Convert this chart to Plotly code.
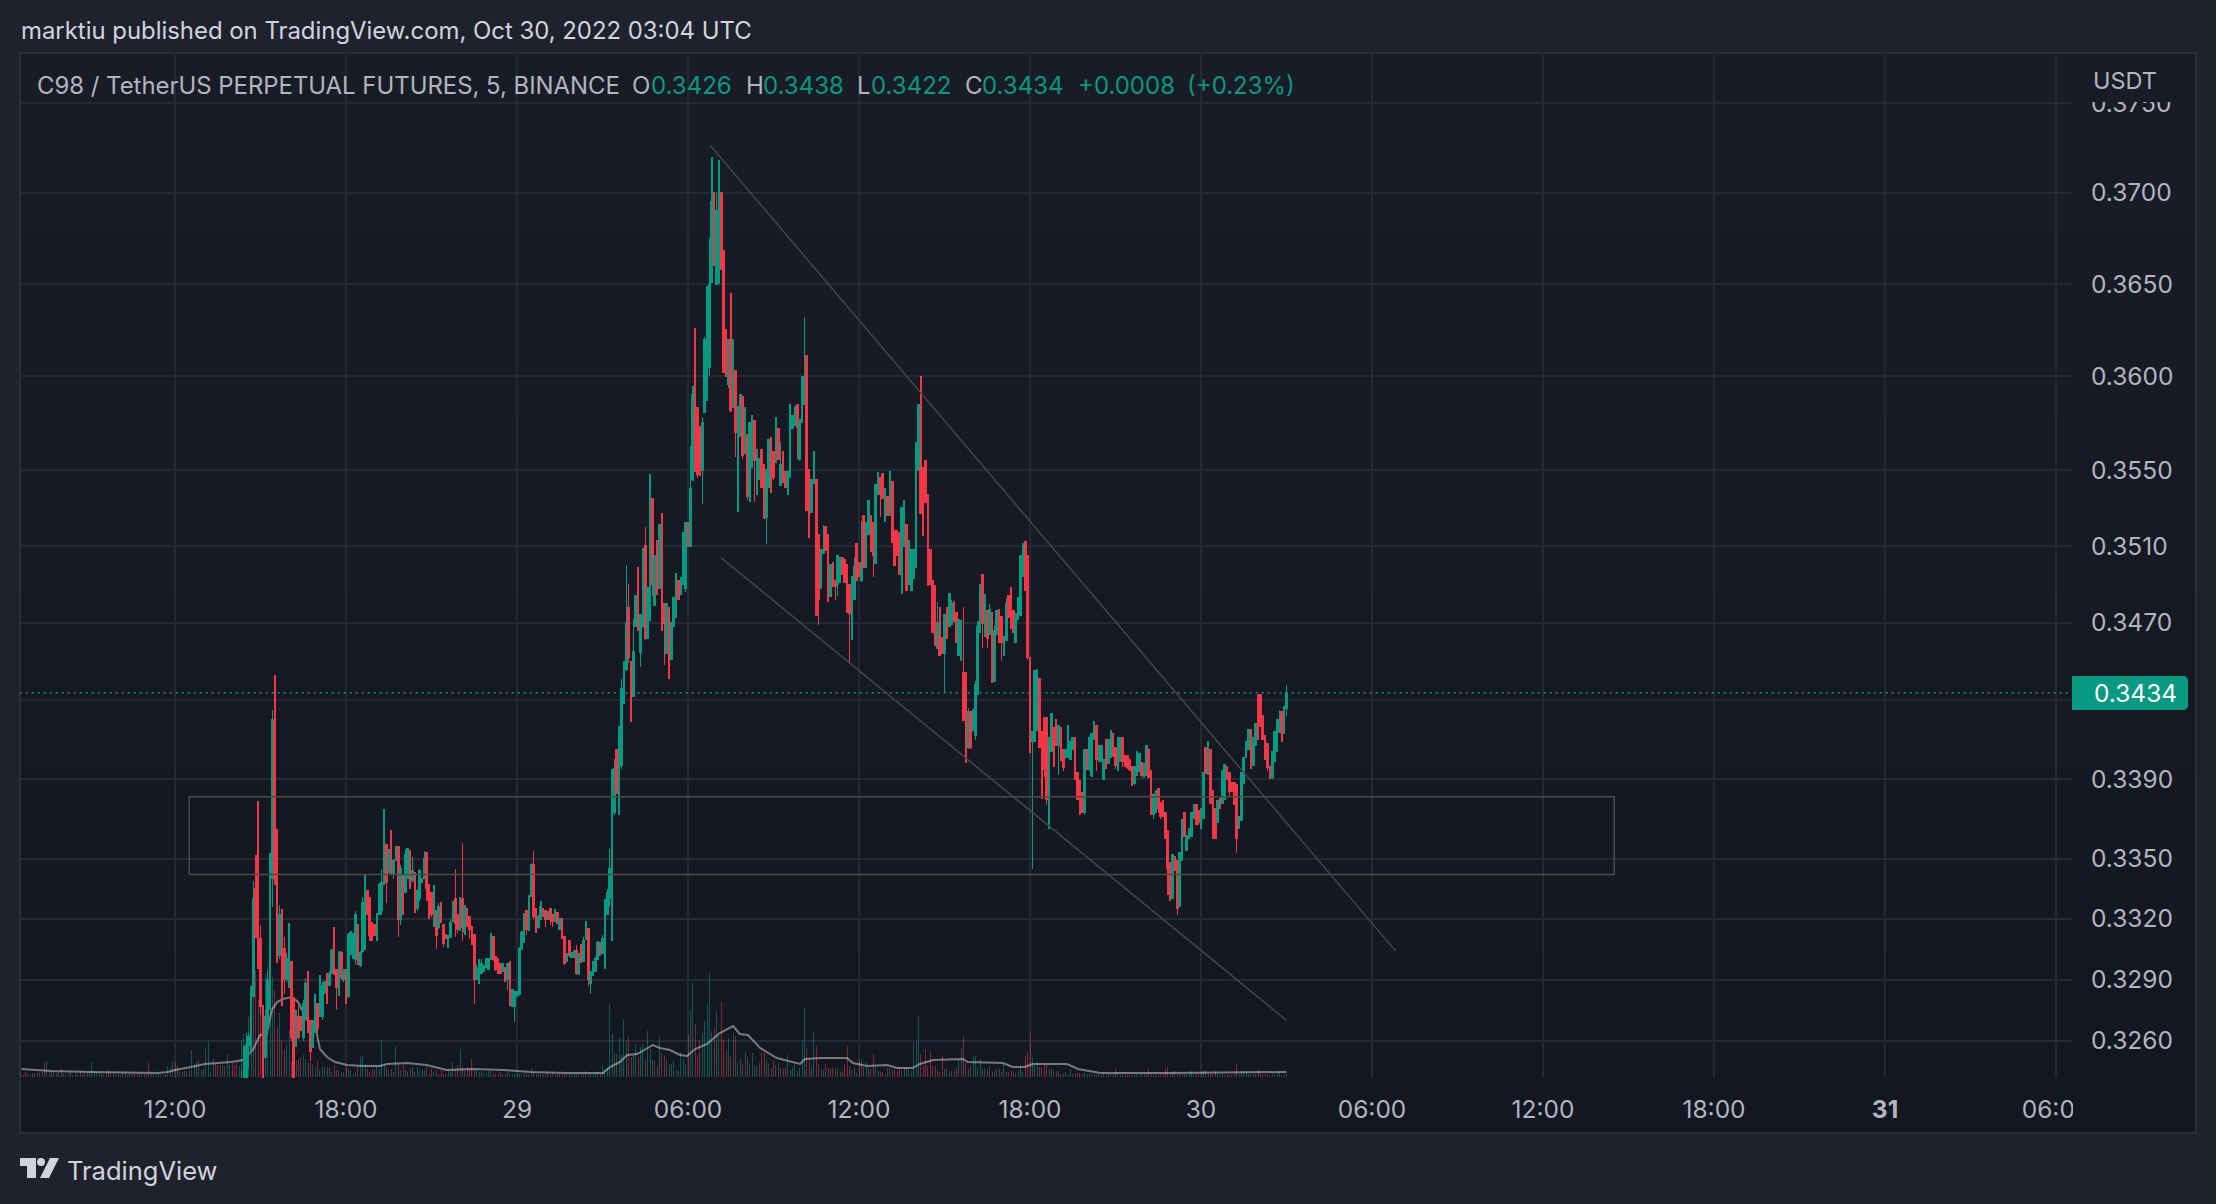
import math
import pandas as pd
import plotly.graph_objects as go

open_ = [.3215,
 .3225,.3228,.3258,.3262,.3282,.3335,.3345,.3310,.3277,.3252,
 .3268,.3290,.3340,.3420,.3345,.3302,.3322,.3305,.3290,.3289,
 .3299,.3281,.3258,.3272,.3272,.3262,.3272,.3288,.3270,.3257,
 .3266,.3278,.3272,.3272,.3284,.3291,.3287,.3293,.3312,.3295,
 .3286,.3303,.3290,.3295,.3282,.3303,.3302,.3300,.3317,.3297,
 .3304,.3305,.3334,.3328,.3318,.3317,.3310,.3322,.3324,.3338,
 .3357,.3344,.3364,.3342,.3349,.3356,.3320,.3342,.3333,.3341,
 .3354,.3339,.3343,.3325,.3330,.3339,.3340,.3353,.3337,.3333,
 .3318,.3324,.3316,.3328,.3317,.3312,.3306,.3311,.3319,.3330,
 .3322,.3315,.3330,.3314,.3325,.3321,.3316,.3312,.3290,.3290,
 .3293,.3294,.3296,.3295,.3300,.3311,.3301,.3300,.3298,.3294,
 .3296,.3290,.3299,.3277,.3277,.3282,.3283,.3305,.3309,.3324,
 .3316,.3331,.3347,.3325,.3316,.3320,.3325,.3324,.3320,.3325,
 .3322,.3319,.3323,.3315,.3320,.3311,.3299,.3309,.3301,.3301,
 .3304,.3293,.3307,.3299,.3310,.3315,.3288,.3292,.3294,.3300,
 .3308,.3303,.3308,.3322,.3330,.3345,.3373,.3405,.3381,.3397,
 .3432,
 .3446,.3478,.3450,.3432,.3468,.3490,.3455,.3468,.3510,.3462,
 .3490,.3535,.3479,.3513,.3488,.3527,.3480,.3454,.3478,.3451,
 .3468,.3473,.3492,.3485,.3490,.3488,.3522,.3510,
 .3545,.3590,.3583,.3573,.3550,.3581,.3595,.3605,.3651,.3700,
 .3650,.3655,.3700,.3668,.3625,.3596,.3620,.3584,.3603,.3560,
 .3568,.3589,.3559,.3569,.3536,.3555,.3576,.3548,.3545,.3561,
 .3553,.3525,.3541,.3567,.3560,.3554,.3572,.3542,.3560,.3549,
 .3541,.3547,.3572,.3574,.3585,.3556,.3585,.3585,.3611,.3550,
 .3528,.3543,.3545,.3516,.3488,.3506,.3520,.3516,.3484,.3501,
 .3492,.3490,.3491,.3504,.3503,.3500,.3490,.3480,.3482,.3511,
 .3501,.3492,.3526,.3499,.3516,.3526,.3522,.3501,.3537,.3546,
 .3548,.3523,.3536,.3526,.3544,.3518,.3518,.3517,.3495,.3510,
 .3521,.3490,.3487,.3493,.3499,.3550,.3551,.3551,.3555,.3537,
 .3508,.3492,.3489,.3457,.3462,.3462,.3454,.3478,.3468,.3469,
 .3481,.3475,.3453,.3452,.3444,.3444,.3406,.3424,.3415,.3412,
 .3433,.3465,.3495,.3463,.3476,.3464,.3475,.3440,.3464,.3477,
 .3473,.3453,.3461,.3484,.3488,
 .3476,.3460,.3472,.3474,.3494,.3512,.3505,.3452,.3409,.3409,
 .3415,.3441,.3414,.3421,.3421,.3380,.3404,.3416,.3420,.3407,
 .3416,.3405,.3401,.3401,.3400,.3405,.3411,.3393,.3389,.3383,
 .3373,.3405,.3395,.3392,.3410,.3417,.3399,.3399,.3390,.3410,
 .3398,.3401,.3413,.3406,.3396,.3399,.3411,.3402,.3402,.3400,
 .3396,.3388,.3392,.3394,.3398,.3391,.3392,.3405,.3394,.3372,
 .3373,.3385,.3378,.3379,.3373,.3364,.3348,.3330,.3351,.3349,
 .3326,.3349,.3373,.3354,.3360,.3361,.3370,.3377,.3374,.3365,
 .3370,.3406,.3393,.3405,.3384,.3375,.3368,.3380,.3378,.3380,
 .3396,.3393,.3388,.3388,.3387,.3365,.3369,.3388,.3401,.3405,
 .3415,.3397,.3407,.3433,.3433,.3422,.3412,.3408,.3396,.3391,
 .3399,.3404,.3414,.3424,.3413,.3426]

high = [.3246,
 .3257,.3264,.3264,.3287,.3339,.3352,.3379,.3317,.3277,.3275,
 .3294,.3353,.3425,.3443,.3365,.3327,.3325,.3311,.3303,.3318,
 .3299,.3281,.3275,.3277,.3272,.3280,.3291,.3294,.3270,.3270,
 .3283,.3278,.3292,.3289,.3289,.3293,.3294,.3305,.3316,.3295,
 .3304,.3304,.3295,.3295,.3313,.3314,.3313,.3324,.3317,.3304,
 .3331,.3342,.3334,.3331,.3318,.3317,.3323,.3338,.3345,.3375,
 .3357,.3355,.3364,.3350,.3356,.3356,.3347,.3342,.3355,.3355,
 .3354,.3351,.3343,.3335,.3345,.3340,.3354,.3353,.3337,.3333,
 .3337,.3324,.3328,.3328,.3317,.3312,.3312,.3320,.3329,.3345,
 .3322,.3331,.3358,.3327,.3325,.3321,.3316,.3312,.3297,.3300,
 .3300,.3297,.3300,.3300,.3313,.3311,.3301,.3300,.3298,.3298,
 .3296,.3298,.3299,.3285,.3284,.3284,.3306,.3314,.3323,.3324,
 .3332,.3348,.3354,.3325,.3322,.3329,.3325,.3324,.3324,.3325,
 .3322,.3325,.3323,.3320,.3320,.3311,.3303,.3309,.3303,.3304,
 .3307,.3303,.3307,.3311,.3319,.3315,.3294,.3299,.3301,.3309,
 .3308,.3312,.3330,.3335,.3355,.3395,.3400,.3405,.3417,.3441,
 .3450,
 .3500,.3490,.3450,.3472,.3484,.3499,.3474,.3509,.3520,.3488,
 .3548,.3535,.3505,.3513,.3521,.3527,.3480,.3480,.3478,.3470,
 .3483,.3496,.3492,.3494,.3517,.3522,.3522,.3563,
 .3595,.3626,.3583,.3573,.3578,.3621,.3649,.3675,.3720,.3700,
 .3700,.3718,.3700,.3668,.3625,.3620,.3645,.3620,.3603,.3584,
 .3590,.3589,.3583,.3569,.3575,.3579,.3576,.3561,.3556,.3561,
 .3553,.3550,.3566,.3567,.3560,.3578,.3572,.3565,.3560,.3549,
 .3549,.3585,.3579,.3584,.3585,.3577,.3600,.3632,.3611,.3550,
 .3545,.3560,.3545,.3516,.3508,.3521,.3520,.3516,.3500,.3501,
 .3492,.3505,.3504,.3504,.3503,.3500,.3490,.3494,.3504,.3511,
 .3501,.3523,.3526,.3522,.3534,.3526,.3522,.3542,.3549,.3546,
 .3548,.3540,.3536,.3549,.3544,.3518,.3518,.3517,.3530,.3534,
 .3521,.3513,.3508,.3508,.3565,.3585,.3600,.3551,.3555,.3537,
 .3508,.3492,.3489,.3481,.3478,.3462,.3474,.3478,.3485,.3482,
 .3481,.3475,.3472,.3471,.3478,.3444,.3426,.3424,.3425,.3440,
 .3471,.3490,.3495,.3485,.3476,.3480,.3475,.3469,.3476,.3477,
 .3473,.3463,.3483,.3484,.3488,
 .3476,.3475,.3483,.3505,.3511,.3512,.3505,.3452,.3414,.3445,
 .3446,.3441,.3414,.3421,.3421,.3411,.3423,.3416,.3420,.3417,
 .3416,.3405,.3405,.3417,.3409,.3411,.3411,.3393,.3389,.3383,
 .3405,.3405,.3411,.3413,.3419,.3417,.3407,.3407,.3400,.3410,
 .3410,.3415,.3413,.3406,.3411,.3411,.3411,.3402,.3402,.3400,
 .3396,.3396,.3404,.3403,.3398,.3398,.3407,.3405,.3394,.3383,
 .3384,.3385,.3378,.3379,.3373,.3364,.3348,.3352,.3351,.3349,
 .3353,.3370,.3373,.3362,.3365,.3373,.3377,.3377,.3374,.3375,
 .3393,.3406,.3409,.3405,.3384,.3375,.3379,.3380,.3394,.3397,
 .3396,.3393,.3388,.3388,.3387,.3371,.3393,.3401,.3409,.3415,
 .3415,.3411,.3418,.3433,.3433,.3422,.3412,.3408,.3396,.3404,
 .3414,.3420,.3425,.3424,.3427,.3438]

low = [.3205,
 .3225,.3225,.3247,.3254,.3282,.3311,.3295,.3273,.3230,.3252,
 .3264,.3275,.3326,.3337,.3298,.3300,.3277,.3283,.3289,.3286,
 .3260,.3235,.3257,.3261,.3265,.3260,.3270,.3264,.3250,.3257,
 .3264,.3264,.3272,.3270,.3283,.3278,.3287,.3293,.3292,.3275,
 .3282,.3290,.3289,.3278,.3281,.3302,.3300,.3297,.3297,.3296,
 .3303,.3305,.3322,.3309,.3309,.3312,.3309,.3322,.3322,.3337,
 .3328,.3343,.3342,.3340,.3349,.3311,.3317,.3322,.3333,.3340,
 .3335,.3338,.3323,.3324,.3329,.3338,.3340,.3329,.3320,.3321,
 .3316,.3305,.3315,.3318,.3306,.3310,.3306,.3311,.3319,.3311,
 .3313,.3314,.3309,.3312,.3316,.3310,.3307,.3278,.3290,.3288,
 .3293,.3294,.3296,.3295,.3300,.3299,.3294,.3293,.3293,.3294,
 .3289,.3285,.3277,.3277,.3269,.3282,.3282,.3305,.3308,.3312,
 .3314,.3331,.3320,.3313,.3315,.3320,.3321,.3316,.3320,.3317,
 .3316,.3319,.3318,.3315,.3310,.3297,.3299,.3301,.3301,.3301,
 .3292,.3292,.3298,.3299,.3310,.3287,.3283,.3292,.3294,.3300,
 .3302,.3303,.3295,.3322,.3326,.3309,.3372,.3383,.3372,.3395,
 .3428,
 .3445,.3449,.3419,.3432,.3468,.3466,.3447,.3468,.3461,.3462,
 .3471,.3484,.3479,.3485,.3488,.3466,.3448,.3454,.3441,.3451,
 .3468,.3473,.3482,.3485,.3490,.3486,.3510,.3510,
 .3544,.3549,.3546,.3547,.3532,.3581,.3587,.3600,.3651,.3660,
 .3650,.3650,.3658,.3602,.3600,.3594,.3581,.3583,.3557,.3528,
 .3568,.3556,.3559,.3534,.3533,.3551,.3533,.3537,.3545,.3541,
 .3524,.3511,.3541,.3538,.3545,.3554,.3556,.3542,.3543,.3541,
 .3537,.3546,.3572,.3574,.3556,.3555,.3575,.3585,.3529,.3514,
 .3528,.3543,.3474,.3469,.3488,.3506,.3508,.3481,.3484,.3489,
 .3482,.3484,.3491,.3495,.3491,.3475,.3449,.3461,.3482,.3492,
 .3494,.3491,.3499,.3499,.3516,.3507,.3494,.3501,.3537,.3525,
 .3535,.3523,.3526,.3526,.3512,.3500,.3505,.3495,.3485,.3510,
 .3487,.3490,.3487,.3493,.3499,.3550,.3527,.3515,.3533,.3489,
 .3490,.3465,.3458,.3457,.3453,.3454,.3434,.3462,.3468,.3469,
 .3471,.3460,.3453,.3450,.3420,.3398,.3405,.3405,.3415,.3410,
 .3433,.3465,.3457,.3463,.3457,.3464,.3439,.3440,.3464,.3460,
 .3450,.3453,.3461,.3473,.3467,
 .3465,.3460,.3472,.3474,.3494,.3487,.3451,.3403,.3345,.3409,
 .3415,.3406,.3380,.3391,.3377,.3365,.3404,.3396,.3407,.3392,
 .3399,.3394,.3401,.3401,.3400,.3405,.3390,.3380,.3372,.3373,
 .3372,.3395,.3394,.3391,.3410,.3394,.3399,.3399,.3390,.3395,
 .3398,.3401,.3401,.3395,.3394,.3399,.3396,.3396,.3395,.3394,
 .3387,.3387,.3392,.3394,.3391,.3391,.3392,.3391,.3372,.3370,
 .3373,.3373,.3370,.3371,.3360,.3332,.3329,.3330,.3344,.3322,
 .3326,.3349,.3361,.3354,.3360,.3361,.3370,.3367,.3367,.3365,
 .3370,.3393,.3392,.3378,.3360,.3360,.3368,.3375,.3378,.3380,
 .3390,.3381,.3384,.3377,.3353,.3365,.3369,.3388,.3401,.3405,
 .3395,.3397,.3407,.3410,.3417,.3410,.3400,.3394,.3390,.3390,
 .3399,.3404,.3414,.3409,.3413,.3422]

close = [.3240,
 .3257,.3258,.3262,.3280,.3330,.3311,.3305,.3277,.3240,.3272,
 .3290,.3340,.3420,.3340,.3302,.3322,.3285,.3290,.3300,.3315,
 .3262,.3240,.3272,.3262,.3266,.3278,.3288,.3270,.3255,.3268,
 .3280,.3266,.3288,.3287,.3289,.3283,.3293,.3304,.3295,.3286,
 .3303,.3291,.3295,.3280,.3312,.3313,.3311,.3322,.3298,.3303,
 .3328,.3338,.3322,.3312,.3310,.3312,.3322,.3337,.3338,.3362,
 .3338,.3352,.3343,.3349,.3356,.3320,.3345,.3330,.3352,.3355,
 .3340,.3344,.3328,.3334,.3344,.3340,.3350,.3335,.3322,.3322,
 .3330,.3312,.3326,.3319,.3308,.3311,.3311,.3318,.3327,.3318,
 .3315,.3328,.3316,.3325,.3317,.3315,.3310,.3290,.3296,.3298,
 .3298,.3296,.3300,.3300,.3310,.3300,.3295,.3293,.3293,.3298,
 .3289,.3298,.3280,.3285,.3284,.3284,.3305,.3313,.3322,.3315,
 .3330,.3347,.3321,.3317,.3321,.3326,.3321,.3320,.3322,.3320,
 .3319,.3324,.3318,.3320,.3311,.3298,.3302,.3302,.3303,.3304,
 .3293,.3302,.3299,.3309,.3318,.3290,.3294,.3298,.3300,.3308,
 .3302,.3310,.3328,.3333,.3345,.3390,.3395,.3383,.3415,.3436,
 .3446,
 .3470,.3452,.3425,.3455,.3484,.3468,.3474,.3505,.3462,.3488,
 .3535,.3490,.3505,.3485,.3521,.3466,.3470,.3480,.3455,.3470,
 .3483,.3490,.3482,.3492,.3517,.3522,.3510,.3540,
 .3590,.3552,.3548,.3550,.3575,.3620,.3645,.3650,.3695,.3660,
 .3690,.3700,.3658,.3602,.3600,.3620,.3582,.3618,.3570,.3584,
 .3590,.3558,.3583,.3536,.3575,.3579,.3555,.3561,.3556,.3541,
 .3540,.3550,.3566,.3539,.3546,.3578,.3556,.3553,.3548,.3541,
 .3549,.3549,.3579,.3584,.3573,.3577,.3600,.3600,.3529,.3530,
 .3545,.3545,.3474,.3482,.3508,.3508,.3508,.3508,.3500,.3489,
 .3489,.3505,.3504,.3495,.3491,.3491,.3475,.3494,.3499,.3492,
 .3494,.3501,.3499,.3522,.3534,.3507,.3505,.3542,.3545,.3537,
 .3535,.3540,.3526,.3549,.3512,.3500,.3505,.3495,.3530,.3534,
 .3487,.3513,.3508,.3508,.3508,.3585,.3527,.3527,.3533,.3490,
 .3490,.3465,.3465,.3470,.3453,.3454,.3474,.3462,.3485,.3480,
 .3471,.3460,.3471,.3471,.3420,.3415,.3424,.3406,.3425,.3438,
 .3468,.3480,.3470,.3484,.3462,.3477,.3465,.3466,.3476,.3460,
 .3460,.3463,.3480,.3473,.3467,
 .3465,.3473,.3483,.3505,.3511,.3487,.3452,.3412,.3414,.3445,
 .3440,.3406,.3395,.3395,.3380,.3411,.3423,.3405,.3407,.3417,
 .3400,.3396,.3405,.3417,.3409,.3411,.3390,.3380,.3375,.3373,
 .3405,.3395,.3411,.3413,.3419,.3400,.3407,.3407,.3400,.3396,
 .3410,.3410,.3403,.3397,.3411,.3411,.3399,.3397,.3396,.3395,
 .3387,.3396,.3396,.3403,.3392,.3397,.3407,.3391,.3372,.3382,
 .3384,.3375,.3371,.3372,.3360,.3345,.3330,.3352,.3344,.3325,
 .3353,.3353,.3361,.3361,.3365,.3373,.3377,.3367,.3368,.3375,
 .3393,.3393,.3409,.3378,.3370,.3360,.3379,.3375,.3394,.3397,
 .3390,.3384,.3384,.3377,.3360,.3371,.3393,.3401,.3409,.3415,
 .3405,.3411,.3418,.3412,.3417,.3410,.3400,.3396,.3391,.3404,
 .3414,.3420,.3420,.3414,.3426,.3434]

volume = [
 37,43,40,60,80,110,107,77,97,67,
 103,110,147,100,87,50,64,37,27,32,
 47,15,17,17,18,20,22,18,15,15,
 13,10,17,8,10,10,10,10,5,12,
 7,7,5,5,10,8,7,3,5,10,
 20,22,13,8,5,8,7,10,8,37,
 13,10,7,8,5,31,13,7,12,7,
 6,8,10,5,10,6,7,7,10,3,
 8,5,7,3,7,3,3,6,5,15,
 7,12,28,10,6,10,7,18,6,7,
 5,6,4,4,6,6,4,3,3,5,
 3,3,5,3,3,3,4,3,3,4,
 3,3,9,5,3,3,3,3,3,5,
 3,4,3,3,3,3,3,3,3,3,
 3,3,3,3,3,6,4,3,3,4,
 5,3,12,8,10,73,43,24,23,39,
 22,58,36,40,
 20,22,33,20,30,33,17,46,28,17,
 16,10,41,24,21,18,12,13,16,7,
 6,25,18,12,43,67,94,53,22,37,
 44,56,73,105,46,48,66,41,75,37,
 28,39,20,44,41,14,18,13,25,20,
 13,24,12,11,14,24,25,17,13,9,
 17,12,14,9,8,9,22,7,10,13,
 6,9,36,69,29,19,10,46,31,13,
 9,7,13,9,8,9,8,9,5,6,
 13,31,11,7,10,4,17,18,10,15,
 9,8,23,10,6,5,5,3,9,9,
 7,8,6,10,6,10,9,8,6,35,
 36,61,23,12,28,11,26,11,11,6,
 5,21,8,9,6,6,6,9,18,29,
 41,14,8,12,21,21,10,18,7,9,
 8,11,5,6,7,8,5,13,5,5,
 7,5,4,6,
 10,5,21,24,44,20,12,16,10,10,
 12,12,8,8,6,6,7,3,4,5,
 3,8,3,4,4,4,3,4,3,3,
 3,3,2,3,2,3,2,3,3,3,
 8,3,2,2,3,2,2,2,2,3,
 2,3,3,3,8,3,2,3,2,3,
 3,8,10,3,6,6,3,4,3,3,
 3,4,6,3,4,3,5,6,7,3,
 3,3,6,3,2,3,2,3,2,2,
 4,13,3,6,6,5,3,3,3,3,
 8,3,3,3,3,2,3,2,3,6,
 2,3,3]

volume_before = [
 4,2,5,3,2,4,4,4,5,5,
 14,16,5,6,5,4,5,8,3,3,
 4,5,2,4,3,6,3,5,4,4,
 15,6,5,4,3,3,5,7,4,3,
 3,3,2,4,4,2,4,3,3,4,
 3,3,3,3,14,4,4,3,3,3,
 2,3,11,9,16,15,11,6,5,6,
 6,7,27,13,15,17,7,8,28,36,
 5,18,13,12,12,12,11,23,12,14,
 12,14,11]
volume_before_dir = ("grrrgrrggr" "rgrgrggrgr" "grrgggrrrg" "ggggrgrrgg" "rggrgrgrrr"
                     "grrrrggrgg" "grgggrrggg" "rrgggrgggg" "ggrrrgrggr" "rrg")

ma_time = ["2022-10-28 06:37","2022-10-28 07:39","2022-10-28 09:03","2022-10-28 10:28","2022-10-28 11:24",
 "2022-10-28 11:45","2022-10-28 12:00","2022-10-28 12:34","2022-10-28 13:03","2022-10-28 13:58",
 "2022-10-28 14:23","2022-10-28 14:44","2022-10-28 14:59","2022-10-28 15:13","2022-10-28 15:24",
 "2022-10-28 15:35","2022-10-28 15:47","2022-10-28 16:06","2022-10-28 16:19","2022-10-28 16:38",
 "2022-10-28 16:55","2022-10-28 17:05","2022-10-28 17:20","2022-10-28 17:37","2022-10-28 18:02",
 "2022-10-28 18:36","2022-10-28 19:11","2022-10-28 19:26","2022-10-28 20:08","2022-10-28 20:50",
 "2022-10-28 21:32","2022-10-28 22:28","2022-10-28 23:31","2022-10-29 00:28","2022-10-29 01:45",
 "2022-10-29 03:01","2022-10-29 03:16","2022-10-29 03:37","2022-10-29 03:52","2022-10-29 04:13",
 "2022-10-29 04:46","2022-10-29 05:01","2022-10-29 05:22","2022-10-29 05:43","2022-10-29 05:58",
 "2022-10-29 06:15","2022-10-29 06:40","2022-10-29 07:07","2022-10-29 07:35","2022-10-29 07:49",
 "2022-10-29 08:06","2022-10-29 08:32","2022-10-29 09:07","2022-10-29 09:56","2022-10-29 10:06",
 "2022-10-29 10:38","2022-10-29 11:35","2022-10-29 11:47","2022-10-29 12:17","2022-10-29 12:59",
 "2022-10-29 13:20","2022-10-29 13:53","2022-10-29 14:08","2022-10-29 14:36","2022-10-29 15:39",
 "2022-10-29 15:49","2022-10-29 17:03","2022-10-29 17:24","2022-10-29 17:49","2022-10-29 18:06",
 "2022-10-29 19:18","2022-10-29 19:41","2022-10-29 20:28","2022-10-29 22:48","2022-10-30 03:00"]
ma_value = [8,6,5,4,4,5,7,10,13,15,17,27,42,43,67,75,78,80,75,57,52,28,20,15,12,11,11,13,14,12,
 7,8,7,5,4,4,10,15,22,23,32,29,27,22,21,28,33,44,51,43,42,29,19,13,18,19,19,14,11,12,
 9,9,13,17,18,15,14,10,10,13,13,8,4,4,5]

price_ticks = [.375,.37,.365,.36,.355,.351,.347,.343,.339,.335,.332,.329,.326]
price_tick_text = ["0.3750","0.3700","0.3650","0.3600","0.3550","0.3510","0.3470","",
                   "0.3390","0.3350","0.3320","0.3290","0.3260"]
time_ticks = ["2022-10-28 12:00","2022-10-28 18:00","2022-10-29 00:00","2022-10-29 06:00","2022-10-29 12:00",
              "2022-10-29 18:00","2022-10-30 00:00","2022-10-30 06:00","2022-10-30 12:00","2022-10-30 18:00",
              "2022-10-31 00:00","2022-10-31 06:00"]
time_tick_text = ["12:00","18:00","29","06:00","12:00","18:00","30","06:00","12:00","18:00","<b>31</b>","06:00"]

last_price = 0.3434
box_time = ["2022-10-28 12:30","2022-10-30 14:30"]
box_price = [.3342,.3381]
upper_line_time = ["2022-10-29 06:48","2022-10-30 06:50"]
upper_line_price = [.3726,.3304]
lower_line_time = ["2022-10-29 07:09","2022-10-30 03:00"]
lower_line_price = [.3504,.3270]

UP, DOWN = "#089981", "#F23645"
VOL_UP, VOL_DOWN = "rgba(8,153,129,0.5)", "rgba(242,54,69,0.5)"
PAGE, GRID, BORDER = "#1E222D", "#252935", "#2A2E39"
TXT, AXT = "#D1D4DC", "#B2B5BE"
FONT = "Inter"

assert len(open_) == len(high) == len(low) == len(close) == len(volume) == 441
assert len(volume_before) == len(volume_before_dir) == 93

W, H = 2216, 1204
L, R, T, B = 20, 2072, 53, 1078

def px(x): return (x - L) / (R - L)
def py(y): return (B - y) / (B - T)

times = pd.date_range(end="2022-10-30 03:00", periods=441, freq="5min")
times_before = pd.date_range(end=times[0] - pd.Timedelta(minutes=5), periods=93, freq="5min")
vol_colors = [VOL_UP if d == "g" else VOL_DOWN for d in volume_before_dir] + \
             [VOL_UP if c >= o else VOL_DOWN for o, c in zip(open_, close)]

fig = go.Figure()
fig.add_trace(go.Bar(x=list(times_before) + list(times), y=volume_before + volume,
                     marker=dict(color=vol_colors, line=dict(width=0)), width=5 * 60 * 1000 * 0.42,
                     yaxis="y", showlegend=False))
fig.add_trace(go.Scatter(x=ma_time, y=ma_value, mode="lines", yaxis="y",
                         line=dict(color="rgba(255,255,255,0.42)", width=2), showlegend=False))
fig.add_trace(go.Candlestick(x=times, open=open_, high=high, low=low, close=close, yaxis="y2",
                             increasing=dict(line=dict(color=UP, width=1.5), fillcolor=UP),
                             decreasing=dict(line=dict(color=DOWN, width=1.5), fillcolor=DOWN),
                             whiskerwidth=0, showlegend=False))
fig.add_trace(go.Scatter(x=["2022-10-28 06:33", "2022-10-31 06:33"], y=[last_price, last_price], yaxis="y2",
                         mode="lines", line=dict(color=UP, width=1.5, dash="2px 4px"), showlegend=False))
fig.add_trace(go.Scatter(x=[box_time[0], box_time[1], box_time[1], box_time[0], box_time[0]],
                         y=[box_price[0], box_price[0], box_price[1], box_price[1], box_price[0]], yaxis="y2",
                         mode="lines", line=dict(color="#4D4B42", width=1.5), showlegend=False))
fig.add_trace(go.Scatter(x=upper_line_time, y=upper_line_price, yaxis="y2", mode="lines",
                         line=dict(color="#44464F", width=1.5), showlegend=False))
fig.add_trace(go.Scatter(x=lower_line_time, y=lower_line_price, yaxis="y2", mode="lines",
                         line=dict(color="#44464F", width=1.5), showlegend=False))

def rect(x0, y0, x1, y1, fill, line=None, layer="above", lw=0):
    return dict(type="rect", xref="paper", yref="paper", x0=px(x0), x1=px(x1), y0=py(y1), y1=py(y0),
                fillcolor=fill, line=dict(color=line or fill, width=lw), layer=layer)

def poly(points, fill):
    d = "M " + " L ".join(f"{px(a):.5f},{py(b):.5f}" for a, b in points) + " Z"
    return dict(type="path", xref="paper", yref="paper", path=d, fillcolor=fill, line=dict(width=0), layer="above")

# the pane darkens a little from top to bottom
pane_bands = ["#181C27", "#171B26", "#161A25", "#151924", "#141823", "#131722"]
band_h = (1133 - 53) / len(pane_bands)
shapes = [rect(20, 53 + i * band_h, 2196, 53 + (i + 1) * band_h, c, None, "below") for i, c in enumerate(pane_bands)]
shapes.append(dict(type="rect", xref="paper", yref="paper", x0=px(20), x1=px(2196), y0=py(1133), y1=py(53),
                   fillcolor="rgba(0,0,0,0)", line=dict(color=BORDER, width=2), layer="below"))

tag_pts = [(2072, 676), (2185, 676), (2188, 679), (2188, 707), (2185, 710), (2072, 710)]
shapes += [
    rect(2073, 55, 2194, 102, pane_bands[0]),
    rect(2073, 1080, 2194, 1131, pane_bands[-1]),
    poly(tag_pts, UP),
    poly([(20, 1158), (36, 1158), (36, 1178), (27, 1178), (27, 1166), (20, 1166)], TXT),
    poly([(50, 1158), (59, 1158), (49, 1178), (40, 1178)], TXT),
    dict(type="circle", xref="paper", yref="paper", x0=px(37), x1=px(45), y0=py(1166), y1=py(1158),
         fillcolor=TXT, line=dict(width=0), layer="above"),
]

def label(x, y, text, color=AXT, size=24, anchor="left"):
    return dict(xref="paper", yref="paper", x=px(x), y=py(y), text=text, showarrow=False, xanchor=anchor,
                yanchor="middle", font=dict(family=FONT, size=size, color=color), align="left", borderpad=0)

annotations = [
    label(20, 31, "marktiu published on TradingView.com, Oct 30, 2022 03:04 UTC", TXT, 23.9),
    label(36, 85, "C98 / TetherUS PERPETUAL FUTURES, 5, BINANCE", AXT, 23.9),
    label(631, 85, "O", AXT), label(650, 85, "0.3426", UP),
    label(745, 85, "H", AXT), label(762, 85, "0.3438", UP),
    label(856, 85, "L", AXT), label(870, 85, "0.3422", UP),
    label(964, 85, "C", AXT), label(981, 85, "0.3434", UP),
    label(1077, 85, "+0.0008", UP), label(1186, 85, "(+0.23%)", UP),
    label(2092, 80, "USDT", AXT, 23.5),
    label(2093, 693, "0.3434", "#FFFFFF", 24.5),
    label(66, 1170, "TradingView", TXT, 25.5),
]

fig.update_layout(
    width=W, height=H, autosize=False,
    margin=dict(l=L, r=W - R, t=T, b=H - B, pad=0),
    paper_bgcolor=PAGE, plot_bgcolor="rgba(0,0,0,0)",
    hovermode=False, dragmode=False, showlegend=False, bargap=0,
    font=dict(family=FONT, color=AXT, size=24),
    xaxis=dict(type="date", range=["2022-10-28 06:33:41", "2022-10-31 06:33:41"],
               tickmode="array", tickvals=time_ticks, ticktext=time_tick_text, tickangle=0,
               showgrid=True, gridcolor=GRID, gridwidth=2, zeroline=False, showline=False, ticks="",
               tickfont=dict(family=FONT, size=24.5, color=AXT), rangeslider=dict(visible=False),
               ticklabelstandoff=14),
    yaxis=dict(range=[-1, 1024], visible=False, showgrid=False, zeroline=False, fixedrange=True),
    yaxis2=dict(type="log", range=[math.log10(.37781), math.log10(.32420)][::-1], overlaying="y", side="right",
                anchor="x", tickmode="array", tickvals=price_ticks, ticktext=price_tick_text,
                showgrid=True, gridcolor=GRID, gridwidth=2, zeroline=False, showline=False, ticks="",
                tickfont=dict(family=FONT, size=24.5, color=AXT), ticklabelstandoff=18),
    shapes=shapes, annotations=annotations,
)

fig.write_html("out.html", config={"displayModeBar": False, "staticPlot": True},
               post_script="document.body.style.margin='0';document.body.style.overflow='hidden';"
                           "document.body.style.background='#1E222D';"
                           "document.querySelectorAll('.boxlayer path').forEach(function(p){"
                           "p.style.shapeRendering='crispEdges';});")
